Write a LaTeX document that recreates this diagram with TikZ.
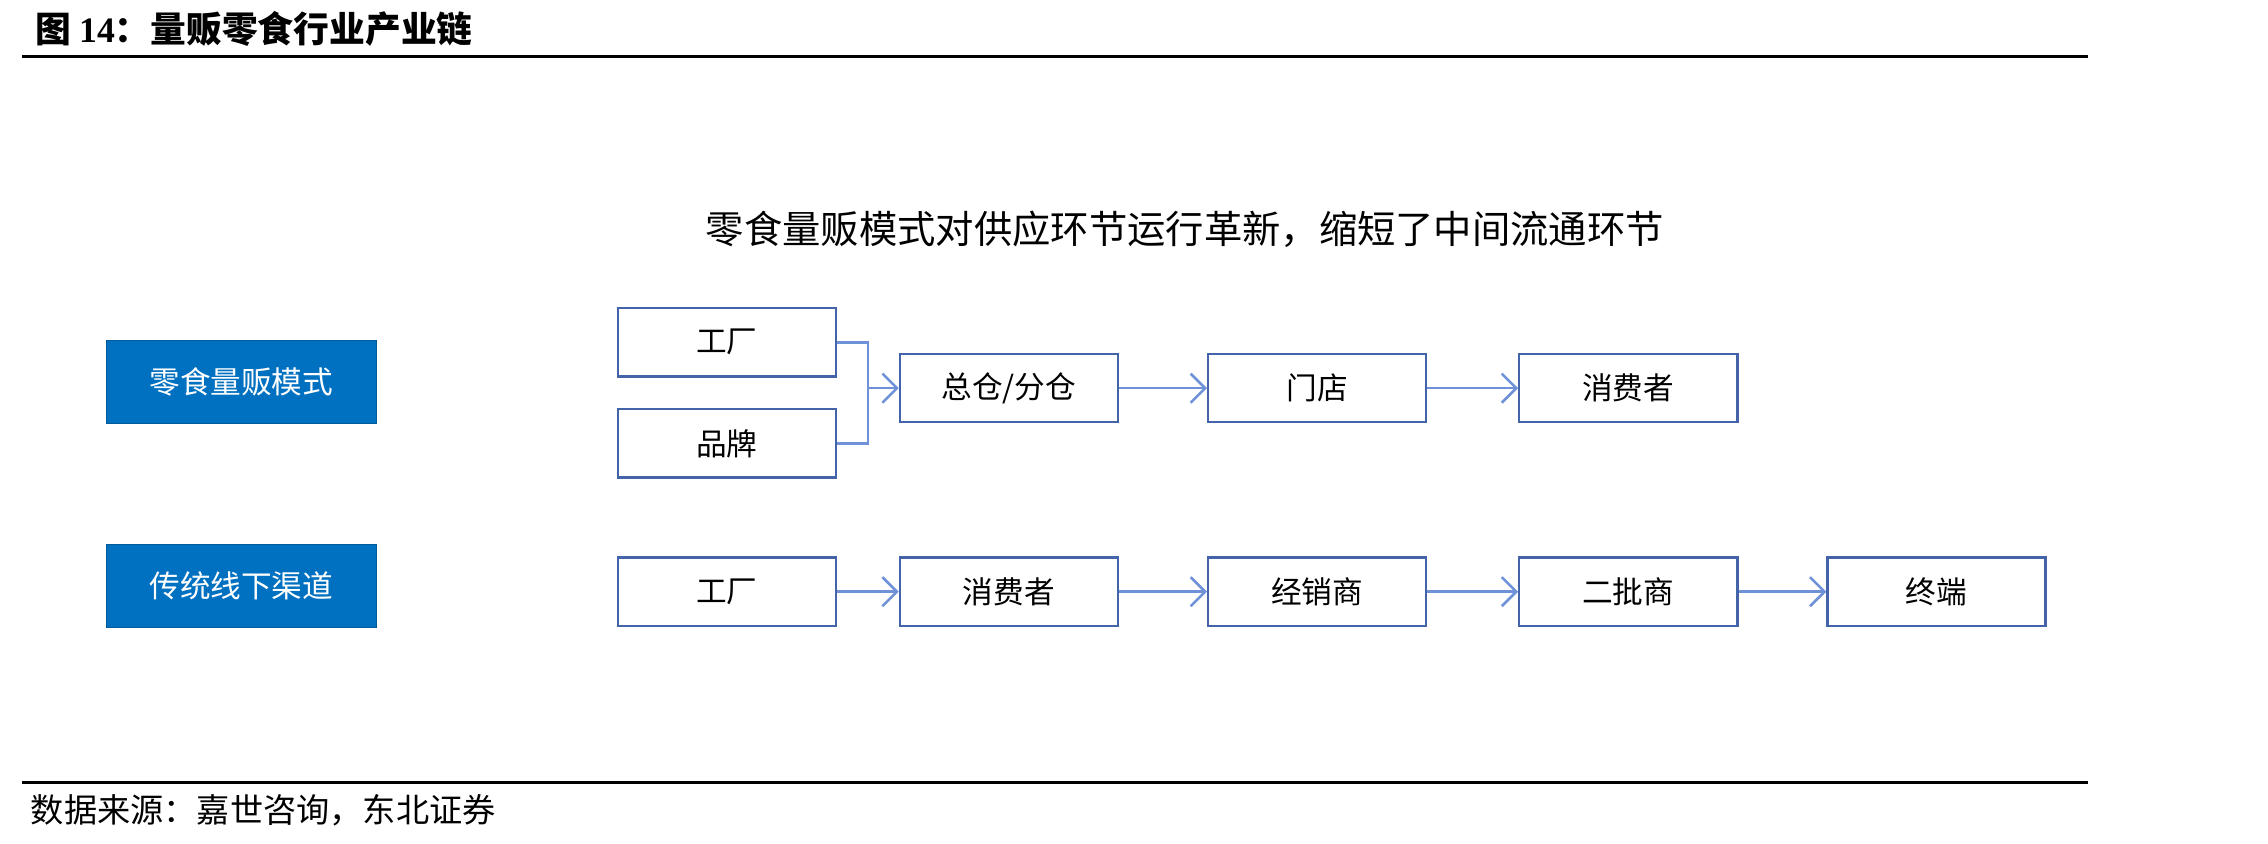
\documentclass[tikz,border=0pt]{standalone}
\usepackage{fontspec}
\setmainfont{Liberation Serif}
\newfontfamily\cjk{Noto Sans CJK SC}
\usetikzlibrary{arrows.meta}
\definecolor{bfill}{RGB}{0,112,192}
\definecolor{bdraw}{RGB}{68,100,170}
\definecolor{arr}{RGB}{110,145,215}
\begin{document}
\begin{tikzpicture}[x=0.2mm,y=-0.2mm,
  box/.style={draw=bdraw,line width=0.9pt,minimum width=30mm,minimum height=9.4mm,inner sep=0pt,font=\cjk\fontsize{12}{12}\selectfont},
  lab/.style={fill=bfill,draw=bfill!80!black,minimum width=37.2mm,minimum height=11.4mm,inner sep=0pt,text=white,font=\cjk\fontsize{12}{12}\selectfont},
  ar/.style={draw=arr,line width=1pt,-{Straight Barb[length=2mm,width=4mm]}}]
\useasboundingbox (0,0) rectangle (1560,580);
\node[anchor=west,font=\cjk\bfseries\fontsize{14}{14}\selectfont] (hd) at (18,20) {图 \textbf{\rmfamily 14}：量贩零食行业产业链};
\draw[line width=1.2pt] (15,39) -- (1436,39);
\draw[line width=1.2pt] (15,538) -- (1436,538);
\node[anchor=west,font=\cjk\fontsize{13}{13}\selectfont] (ft) at (15,557) {数据来源：嘉世咨询，东北证券};
\node[font=\cjk\fontsize{15}{15}\selectfont] (st) at (815,158) {零食量贩模式对供应环节运行革新，缩短了中间流通环节};
\node[lab] (l1) at (166,262.5) {零食量贩模式};
\node[lab] (l2) at (166,403) {传统线下渠道};
\node[box] (a1) at (500,235.5) {工厂};
\node[box] (a2) at (500,305) {品牌};
\node[box] (a3) at (694,267) {总仓/分仓};
\node[box] (a4) at (906,267) {门店};
\node[box] (a5) at (1120,267) {消费者};
\node[box] (b1) at (500,407) {工厂};
\node[box] (b2) at (694,407) {消费者};
\node[box] (b3) at (906,407) {经销商};
\node[box] (b4) at (1120,407) {二批商};
\node[box] (b5) at (1332,407) {终端};
\coordinate (j) at (597,267);
\draw[draw=arr,line width=1pt] (a1.east) -| (j) |- (a2.east);
\draw[ar] (j) -- (a3.west);
\draw[ar] (a3) -- (a4);
\draw[ar] (a4) -- (a5);
\draw[ar] (b1) -- (b2);
\draw[ar] (b2) -- (b3);
\draw[ar] (b3) -- (b4);
\draw[ar] (b4) -- (b5);
\end{tikzpicture}
\end{document}
